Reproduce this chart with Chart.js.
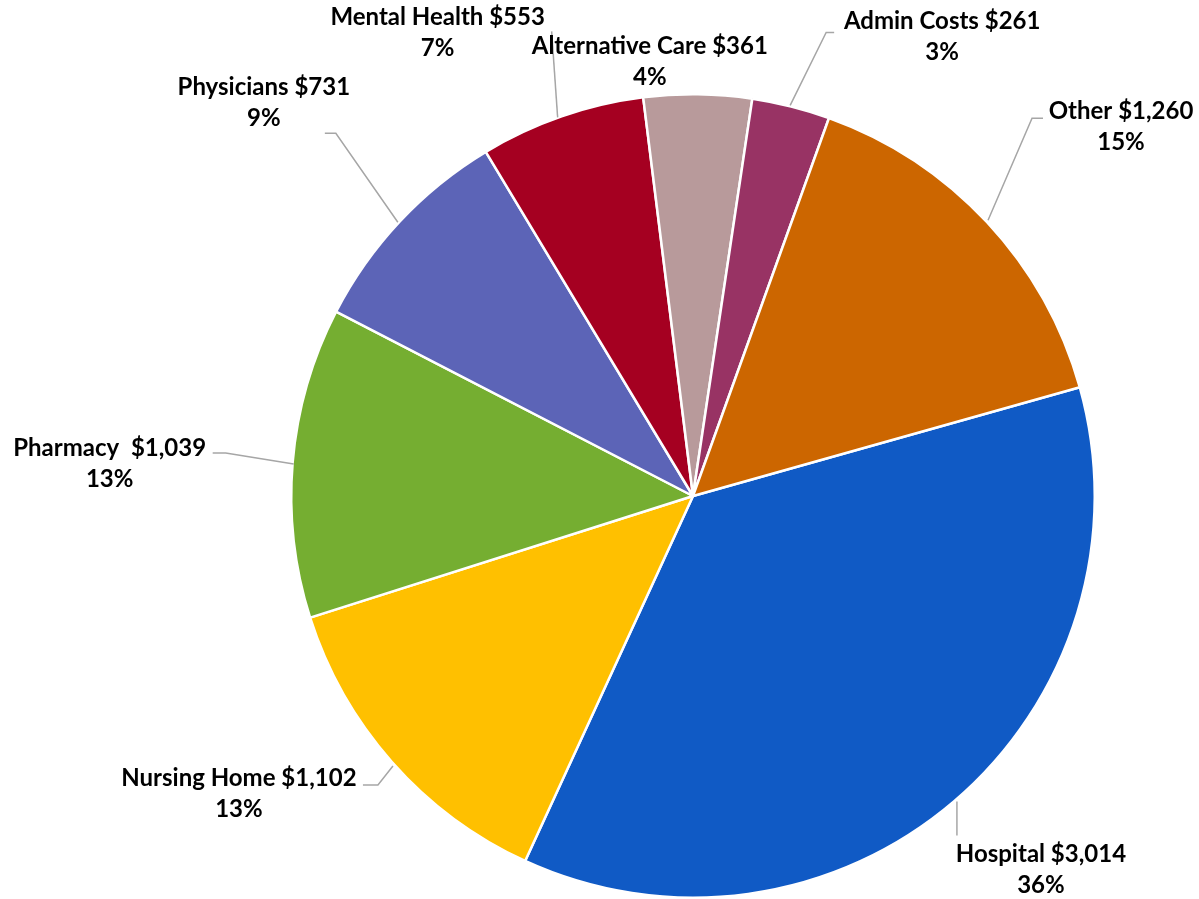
<!DOCTYPE html>
<html>
<head>
<meta charset="utf-8">
<script src="https://cdn.jsdelivr.net/npm/chart.js@4.4.1/dist/chart.umd.min.js"></script>
<style>
  html, body { margin: 0; padding: 0; background: #fff; }
  #wrap { width: 1199px; height: 899px; position: relative; }
</style>
</head>
<body>
<div id="wrap"><canvas id="pie"></canvas></div>
<script>
const categories = ["Hospital", "Nursing Home", "Pharmacy ", "Physicians", "Mental Health", "Alternative Care", "Admin Costs", "Other"];
const spending = [3014, 1102, 1039, 731, 553, 361, 261, 1260];
// shares as printed on the chart
const shareLabels = ["36%", "13%", "13%", "9%", "7%", "4%", "3%", "15%"];
const sliceColors = ["#105AC5", "#FFC000", "#75AE31", "#5C64B7", "#A50021", "#B89A9B", "#983364", "#CC6600"];

// label placement relative to each slice's outer edge at its mid angle
const labelOffset = [[87, 68], [-153, 31], [-183, 1], [-136, -119], [-124, -84], [-48, -33], [151, -70], [134, -96]];
const leaderPaths = [
  [[3, 0], [3, 34]],
  [[1, 4], [-14, 23], [-29, 23]],
  [[1, 2], [-67, -9], [-80, -9]],
  [[-2, 1], [-64, -88], [-75, -88]],
  [[-4, 1], [-10, -85]],
  [],
  [[-1, -1], [35, -74], [43, -74]],
  [[1, -2], [45, -104], [56, -104]]
];

const FONT = "bold 24px Lato, 'Open Sans', sans-serif";

const fmtMoney = v => "$" + v.toLocaleString("en-US");

const pieLabels = {
  id: "pieLabels",
  afterDatasetsDraw(chart) {
    const ctx = chart.ctx;
    const meta = chart.getDatasetMeta(0);
    ctx.save();
    meta.data.forEach((arc, i) => {
      const { x, y, startAngle, endAngle, outerRadius } = arc.getProps(["x", "y", "startAngle", "endAngle", "outerRadius"], true);
      const mid = (startAngle + endAngle) / 2;
      const ex = x + Math.cos(mid) * outerRadius;
      const ey = y + Math.sin(mid) * outerRadius;

      const path = leaderPaths[i];
      if (path.length) {
        ctx.strokeStyle = "#A6A6A6";
        ctx.lineWidth = 1.5;
        ctx.beginPath();
        path.forEach((p, k) => {
          if (k === 0) ctx.moveTo(ex + p[0], ey + p[1]);
          else ctx.lineTo(ex + p[0], ey + p[1]);
        });
        ctx.stroke();
      }

      const lx = ex + labelOffset[i][0];
      const ly = ey + labelOffset[i][1];
      ctx.fillStyle = "#000";
      ctx.font = FONT;
      ctx.textAlign = "center";
      ctx.textBaseline = "middle";
      ctx.fillText(categories[i] + " " + fmtMoney(spending[i]), lx, ly - 15);
      ctx.fillText(shareLabels[i], lx, ly + 16);
    });
    ctx.restore();
  }
};

new Chart(document.getElementById("pie"), {
  type: "pie",
  data: {
    labels: categories,
    datasets: [{
      data: spending,
      backgroundColor: sliceColors,
      borderColor: "#ffffff",
      borderWidth: 2.5
    }]
  },
  options: {
    responsive: true,
    maintainAspectRatio: false,
    animation: false,
    rotation: 74.3,
    layout: { padding: { left: 290, right: 103, top: 93, bottom: 0 } },
    plugins: {
      legend: { display: false },
      tooltip: { enabled: false }
    }
  },
  plugins: [pieLabels]
});
</script>
</body>
</html>
